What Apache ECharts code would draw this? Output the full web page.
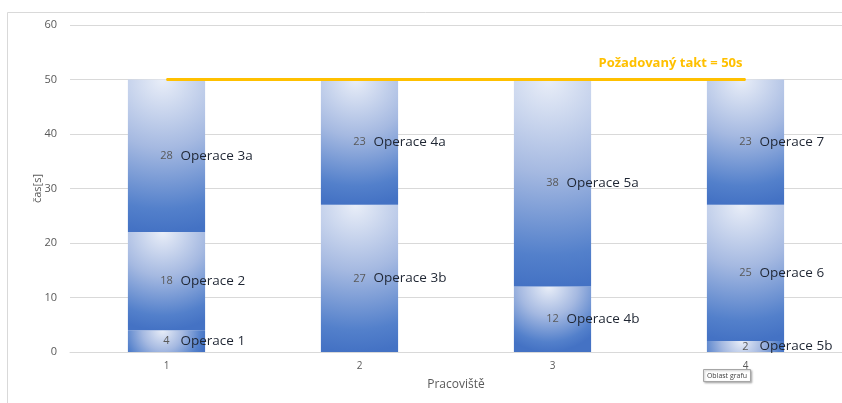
<!DOCTYPE html>
<html>
<head>
<meta charset="utf-8">
<script src="https://cdn.jsdelivr.net/npm/echarts@6/dist/echarts.min.js"></script>
<style>
  html, body { margin: 0; padding: 0; background: #ffffff; }
  #chart { width: 842px; height: 403px; }
</style>
</head>
<body>
<div id="chart"></div>
<script>
// Workstations on the x axis
const categories = ['1', '2', '3', '4'];

// Operation times per stacked layer (bottom to top), one value per workstation
const layer1Values = [4, 27, 12, 2];
const layer1Names = ['Operace 1', 'Operace 3b', 'Operace 4b', 'Operace 5b'];
const layer2Values = [18, 23, 38, 25];
const layer2Names = ['Operace 2', 'Operace 4a', 'Operace 5a', 'Operace 6'];
const layer3Values = [28, null, null, 23];
const layer3Names = ['Operace 3a', '', '', 'Operace 7'];

// Required takt time
const taktValues = [50, 50, 50, 50];
const taktLabel = 'Požadovaný takt = 50s';

const yTicks = { min: 0, max: 60, interval: 10 };

// Plot area geometry
const W = 842, H = 403;
const GRID = { left: 70, right: 0, top: 25, bottom: 51 };
const plotH = H - GRID.top - GRID.bottom;
const plotW = W - GRID.left - GRID.right;
const pxPerUnit = plotH / (yTicks.max - yTicks.min);
const barPx = 0.4 * plotW / categories.length;

// Excel-like path gradient: pale at the top centre fading to blue
function segmentFill(value) {
  const h = Math.max(value * pxPerUnit, 1);
  const radius = Math.max(h, 45);
  const r = radius / Math.min(h, barPx);
  return new echarts.graphic.RadialGradient(0.45, 0, r, [
    { offset: 0, color: '#e9eef8' },
    { offset: 0.45, color: '#a5b9e1' },
    { offset: 0.85, color: '#5380cb' },
    { offset: 1, color: '#4472c4' }
  ]);
}

function stackSeries(values, names) {
  return {
    type: 'bar',
    stack: 'ops',
    barWidth: '40%',
    data: values.map((v, i) => v == null ? null : {
      value: v,
      opName: names[i],
      itemStyle: { color: segmentFill(v) }
    }),
    label: {
      show: true,
      position: ['50%', '50%'],
      align: 'left',
      verticalAlign: 'middle',
      offset: [-8, 0],
      formatter: p => '{v|' + p.value + '}{n|' + p.data.opName + '}',
      rich: {
        v: { width: 16, align: 'center', color: '#595959', fontSize: 11, fontFamily: 'Open Sans' },
        n: { color: '#1f2633', fontSize: 13.5, fontFamily: 'Open Sans', padding: [0, 0, 0, 6] }
      }
    },
    emphasis: { disabled: true }
  };
}

const chart = echarts.init(document.getElementById('chart'), null, { renderer: 'canvas' });

chart.setOption({
  animation: false,
  backgroundColor: '#ffffff',
  textStyle: { fontFamily: 'Open Sans' },
  grid: { left: GRID.left, right: GRID.right, top: GRID.top, bottom: GRID.bottom, containLabel: false },
  xAxis: {
    type: 'category',
    data: categories,
    name: 'Pracoviště',
    nameLocation: 'middle',
    nameGap: 27,
    nameMoveOverlap: false,
    nameTextStyle: { color: '#595959', fontSize: 12 },
    axisLine: { lineStyle: { color: '#d9d9d9' } },
    axisTick: { show: false },
    axisLabel: { color: '#595959', fontSize: 10, margin: 9 }
  },
  yAxis: {
    type: 'value',
    min: yTicks.min,
    max: yTicks.max,
    interval: yTicks.interval,
    name: 'čas[s]',
    nameLocation: 'middle',
    nameGap: 27,
    nameMoveOverlap: false,
    nameRotate: 90,
    nameTextStyle: { color: '#595959', fontSize: 11 },
    axisLine: { show: false },
    axisTick: { show: false },
    axisLabel: { color: '#595959', fontSize: 11, margin: 13 },
    splitLine: { lineStyle: { color: '#d9d9d9', width: 1 } }
  },
  series: [
    stackSeries(layer1Values, layer1Names),
    stackSeries(layer2Values, layer2Names),
    stackSeries(layer3Values, layer3Names),
    {
      type: 'line',
      data: taktValues,
      symbol: 'circle',
      symbolSize: 1,
      showSymbol: true,
      itemStyle: { color: '#ffc000' },
      lineStyle: { color: '#ffc000', width: 3 },
      z: 5,
      label: {
        show: true,
        position: 'top',
        align: 'right',
        distance: 9,
        offset: [-3, 0],
        color: '#ffc000',
        fontWeight: 'bold',
        fontSize: 13,
        fontFamily: 'Open Sans',
        formatter: p => p.dataIndex === taktValues.length - 1 ? taktLabel : ''
      },
      emphasis: { disabled: true }
    }
  ],
  graphic: [
    {
      type: 'rect',
      left: 5, top: 10,
      shape: { width: 900, height: 450 },
      style: { fill: 'none', stroke: '#d9d9d9', lineWidth: 1 },
      silent: true
    },
    {
      type: 'group',
      left: 703, top: 369,
      children: [
        {
          type: 'rect',
          shape: { width: 47, height: 12 },
          style: { fill: '#ffffff', stroke: '#a6a6a6', lineWidth: 1, shadowBlur: 2, shadowColor: 'rgba(0,0,0,0.25)', shadowOffsetX: 1, shadowOffsetY: 1 }
        },
        {
          type: 'text',
          x: 23.5, y: 6,
          style: { text: 'Oblast grafu', fill: '#404040', fontSize: 7, fontFamily: 'Open Sans', align: 'center', verticalAlign: 'middle' }
        }
      ]
    }
  ]
});
</script>
</body>
</html>
